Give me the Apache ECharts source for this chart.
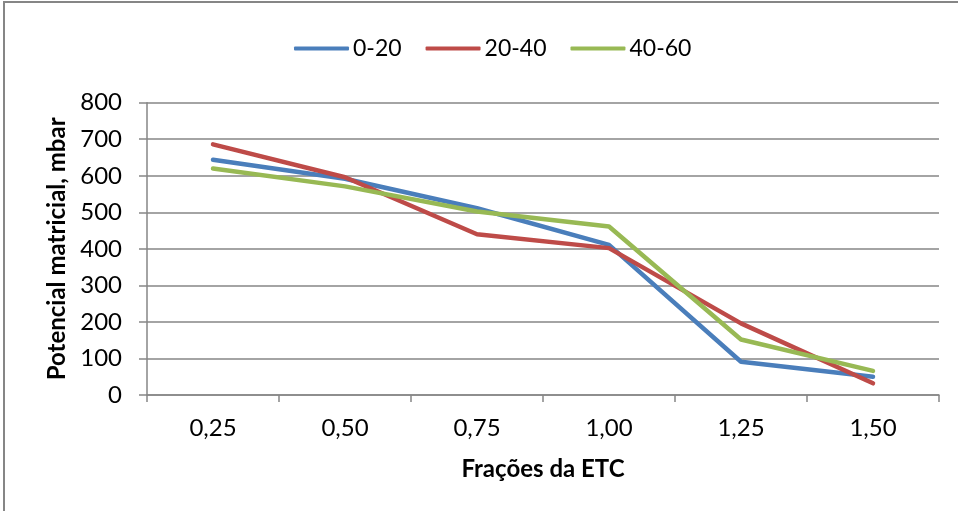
<!DOCTYPE html>
<html>
<head>
<meta charset="utf-8">
<script src="https://cdn.jsdelivr.net/npm/echarts@6/dist/echarts.min.js"></script>
<style>
html,body{margin:0;padding:0;background:#fff;}
#chart{width:958px;height:511px;}
</style>
</head>
<body>
<div id="chart"></div>
<script>
const categories = ['0,25', '0,50', '0,75', '1,00', '1,25', '1,50'];
const seriesNames = ['0-20', '20-40', '40-60'];
const values0_20 = [644, 592, 511, 411, 91, 50];
const values20_40 = [686, 596, 440, 402, 196, 32];
const values40_60 = [620, 571, 502, 461, 152, 66];
const yTicks = { min: 0, max: 800, interval: 100 };
const xAxisTitle = 'Frações da ETC';
const yAxisTitle = 'Potencial matricial, mbar';

const colors = ['#4A7EBB', '#BE4B48', '#98B954'];
const axisColor = '#868686';
const font = 'Lato, "Open Sans", sans-serif';

const chart = echarts.init(document.getElementById('chart'), null, { renderer: 'canvas' });

const dataSets = [values0_20, values20_40, values40_60];

chart.setOption({
  animation: false,
  backgroundColor: '#ffffff',
  color: colors,
  graphic: [{
    type: 'rect',
    shape: { x: 4, y: 2, width: 1200, height: 1200 },
    style: { fill: 'none', stroke: axisColor, lineWidth: 2 },
    silent: true, z: -1
  }],
  legend: {
    top: 32,
    left: 289,
    itemWidth: 55,
    itemHeight: 4,
    itemGap: 24,
    icon: 'roundRect',
    textStyle: { fontFamily: font, fontSize: 23, color: '#000', padding: [0, 0, 0, -1] },
    data: seriesNames
  },
  grid: { left: 147, right: 19, top: 102.7, bottom: 116 },
  xAxis: {
    type: 'category',
    data: categories,
    boundaryGap: true,
    name: xAxisTitle,
    nameLocation: 'middle',
    nameGap: 62,
    nameTextStyle: { fontFamily: font, fontSize: 24, fontWeight: 'bold', color: '#000' },
    axisLine: { lineStyle: { color: axisColor, width: 1.5 } },
    axisTick: { show: true, length: 7, lineStyle: { color: axisColor, width: 1.5 } },
    axisLabel: { margin: 21, fontFamily: font, fontSize: 24, color: '#000' },
    splitLine: { show: false }
  },
  yAxis: {
    type: 'value',
    min: yTicks.min, max: yTicks.max, interval: yTicks.interval,
    name: yAxisTitle,
    nameLocation: 'middle',
    nameRotate: 90,
    nameGap: 76,
    nameTextStyle: { fontFamily: font, fontSize: 24, fontWeight: 'bold', color: '#000' },
    axisLine: { show: true, lineStyle: { color: axisColor, width: 1.5 } },
    axisTick: { show: true, length: 8, lineStyle: { color: axisColor, width: 1.5 } },
    axisLabel: { margin: 25, fontFamily: font, fontSize: 24, color: '#000' },
    splitLine: { show: true, lineStyle: { color: axisColor, width: 1.5 } }
  },
  series: seriesNames.map((n, i) => ({
    name: n,
    type: 'line',
    data: dataSets[i],
    symbol: 'none',
    smooth: false,
    lineStyle: { width: 4.5, color: colors[i], cap: 'round', join: 'round' },
    itemStyle: { color: colors[i] }
  }))
});
</script>
</body>
</html>
